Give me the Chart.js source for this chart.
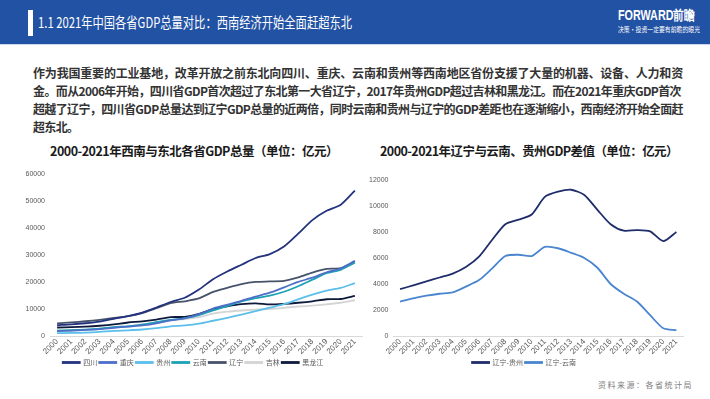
<!DOCTYPE html>
<html>
<head>
<meta charset="utf-8">
<script src="https://cdn.jsdelivr.net/npm/chart.js@4.4.0/dist/chart.umd.min.js"></script>
<style>
  body { margin: 0; width: 710px; height: 399px; background: #fff; position: relative; overflow: hidden;
         font-family: "Noto Sans CJK SC", "Noto Sans", sans-serif; }
  #header { position: absolute; left: 0; top: 0; width: 710px; height: 44px; background: #2252a3; border-bottom: 1px solid #c9d6ea; }
  #bar { position: absolute; left: 28px; top: 10px; width: 5px; height: 26px; background: #fff; }
  .fit { position: absolute; white-space: nowrap; transform-origin: 0 50%; }
  #headTitle { left: 38px; top: 12px; color: #fff; font-size: 15px; line-height: 20px; }
  #logo { left: 618px; top: 6px; color: #fff; font-family: "Liberation Sans", sans-serif; font-weight: bold; font-size: 14px; line-height: 18px; }
  #slogan { left: 618px; top: 25px; color: #fff; font-size: 7px; line-height: 9px; }
  .para { left: 33px; color: #333; font-size: 12px; font-weight: bold; line-height: 16px; }
  .ctitle { position: absolute; top: 142px; color: #1a1a1a; font-size: 12.5px; font-weight: bold; line-height: 18px; white-space: nowrap; }
  #source { right: 17px; top: 379px; color: #808080; font-size: 8px; letter-spacing: 1.5px; position: absolute; }
  canvas { position: absolute; }
</style>
</head>
<body>
<div id="header"></div>
<div id="bar"></div>
<div id="headTitle" class="fit">1.1 2021年中国各省GDP总量对比：西南经济开始全面赶超东北</div>
<div id="logo" class="fit">FORWARD前瞻</div>
<div id="slogan" class="fit">决策·投资一定要有前瞻的眼光</div>

<div id="p1" class="fit para" style="top:65px">作为我国重要的工业基地，改革开放之前东北向四川、重庆、云南和贵州等西南地区省份支援了大量的机器、设备、人力和资</div>
<div id="p2" class="fit para" style="top:83px">金。而从2006年开始，四川省GDP首次超过了东北第一大省辽宁，2017年贵州GDP超过吉林和黑龙江。而在2021年重庆GDP首次</div>
<div id="p3" class="fit para" style="top:101px">超越了辽宁，四川省GDP总量达到辽宁GDP总量的近两倍，同时云南和贵州与辽宁的GDP差距也在逐渐缩小，西南经济开始全面赶</div>
<div id="p4" class="fit para" style="top:119px">超东北。</div>

<div id="t1" class="ctitle">2000-2021年西南与东北各省GDP总量（单位：亿元）</div>
<div id="t2" class="ctitle">2000-2021年辽宁与云南、贵州GDP差值（单位：亿元）</div>

<canvas id="leftChart" width="365" height="216" style="left:0;top:160px"></canvas>
<canvas id="rightChart" width="345" height="216" style="left:365px;top:160px"></canvas>

<div id="source">资料来源：各省统计局</div>

<script>
const years = ['2000', '2001', '2002', '2003', '2004', '2005', '2006', '2007', '2008', '2009', '2010',
  '2011', '2012', '2013', '2014', '2015', '2016', '2017', '2018', '2019', '2020', '2021'];

// 各省GDP总量（亿元）
const sichuan = [4010, 4293, 4725, 5333, 6380, 7385, 8690, 10562, 12601, 14151, 17185, 21027, 23873, 26392, 28891, 30342, 33138, 37905, 42902, 46364, 48599, 53851];
const chongqing = [1791, 1977, 2233, 2556, 3035, 3468, 3907, 4676, 5794, 6530, 8065, 10161, 11596, 13028, 14623, 16041, 18023, 20066, 21588, 23606, 25003, 27894];
const guizhou = [1069, 1134, 1258, 1503, 1872, 2100, 2400, 2900, 3560, 3910, 4550, 5650, 6750, 7960, 9180, 10510, 11790, 13590, 15360, 16810, 17820, 19580];
const yunnan = [2019, 2133, 2358, 2753, 3322, 3600, 4200, 5100, 6010, 6610, 7750, 9500, 11100, 12810, 14030, 14960, 16390, 18440, 20860, 23260, 24520, 27130];
const liaoning = [4669, 5033, 5458, 6003, 6672, 7400, 8500, 10300, 12160, 12860, 13900, 16350, 17850, 19210, 20030, 20210, 20390, 21690, 23510, 24860, 25120, 27580];
const jilin = [1952, 2120, 2348, 2662, 3122, 3620, 4275, 5000, 5750, 6300, 7000, 8300, 9000, 9450, 9800, 10020, 10430, 10920, 11250, 11730, 12310, 13240];
const heilongjiang = [3151, 3250, 3450, 3800, 4300, 5000, 5400, 6100, 7000, 7100, 8200, 10000, 11000, 11800, 12100, 11690, 11900, 12310, 12850, 13610, 13700, 14880];

// 差值（亿元）
const lnMinusGz = [3600, 3900, 4200, 4500, 4800, 5300, 6100, 7400, 8600, 8950, 9350, 10700, 11100, 11250, 10850, 9700, 8600, 8100, 8150, 8050, 7300, 8000];
const lnMinusYn = [2650, 2900, 3100, 3250, 3350, 3800, 4300, 5200, 6150, 6250, 6150, 6850, 6750, 6400, 6000, 5250, 4000, 3250, 2650, 1600, 600, 450];

const leftTicks = { max: 60000, step: 10000 };
const rightTicks = { max: 12000, step: 2000 };

// fit text lines to the widths seen in the picture
function fitWidth(id, w) {
  const el = document.getElementById(id);
  const n = el.textContent.length;
  const natural = el.getBoundingClientRect().width;
  const ls = (w - natural) / n;
  el.style.letterSpacing = ls + 'px';
  return ls;
}
function squeeze(id, w) {
  const el = document.getElementById(id);
  const natural = el.getBoundingClientRect().width;
  el.style.transform = 'scaleX(' + (w / natural) + ')';
}
squeeze('headTitle', 314);
squeeze('logo', 77);
squeeze('slogan', 82);
fitWidth('p1', 650);
fitWidth('p2', 648);
const ls3 = fitWidth('p3', 650);
document.getElementById('p4').style.letterSpacing = ls3 + 'px';

function centerAt(id, cx, w) {
  const el = document.getElementById(id);
  fitWidth(id, w);
  el.style.left = (cx - el.getBoundingClientRect().width / 2) + 'px';
}
centerAt('t1', 194, 288);
centerAt('t2', 529, 298);

const tickFont = { family: 'Liberation Sans', size: 7 };
const xFont = { family: 'Liberation Sans', size: 8 };
const legendFont = { family: 'Noto Sans CJK SC', size: 7 };

function lineSet(label, data, color) {
  return { label: label, data: data, borderColor: color, backgroundColor: color, borderWidth: 1.8 };
}

function chartOptions(ticks, yWidth, padding) {
  return {
    responsive: false,
    animation: false,
    layout: { padding: padding },
    elements: { point: { radius: 0 }, line: { tension: 0.25 } },
    plugins: {
      legend: {
        position: 'bottom',
        labels: { boxWidth: 17, boxHeight: 1, padding: 2, color: '#595959', font: legendFont }
      },
      tooltip: { enabled: false }
    },
    scales: {
      x: {
        offset: true,
        grid: { display: false, drawTicks: false },
        border: { color: '#d9d9d9' },
        ticks: { minRotation: 45, maxRotation: 45, autoSkip: false, color: '#595959', font: xFont, padding: 1 },
        afterFit: s => { s.height = 21; }
      },
      y: {
        min: 0,
        max: ticks.max,
        grid: { display: false, drawTicks: false },
        border: { display: false },
        ticks: { stepSize: ticks.step, color: '#595959', font: tickFont, padding: 5, callback: v => String(v) },
        afterFit: s => { s.width = yWidth; }
      }
    }
  };
}

new Chart(document.getElementById('leftChart'), {
  type: 'line',
  data: {
    labels: years,
    datasets: [
      lineSet('四川', sichuan, '#22327e'),
      lineSet('重庆', chongqing, '#4c70c8'),
      lineSet('贵州', guizhou, '#5bbfea'),
      lineSet('云南', yunnan, '#1ba2b6'),
      lineSet('辽宁', liaoning, '#47536b'),
      lineSet('吉林', jilin, '#d4d4d4'),
      lineSet('黑龙江', heilongjiang, '#0e1a3c')
    ]
  },
  options: chartOptions(leftTicks, 26, { left: 24, right: 3, top: 14, bottom: 0 })
});

new Chart(document.getElementById('rightChart'), {
  type: 'line',
  data: {
    labels: years,
    datasets: [
      lineSet('辽宁-贵州', lnMinusGz, '#1f2d6b'),
      lineSet('辽宁-云南', lnMinusYn, '#4a86d0')
    ]
  },
  options: chartOptions(rightTicks, 28.5, { left: 0, right: 27, top: 20, bottom: 0 })
});
</script>
</body>
</html>
